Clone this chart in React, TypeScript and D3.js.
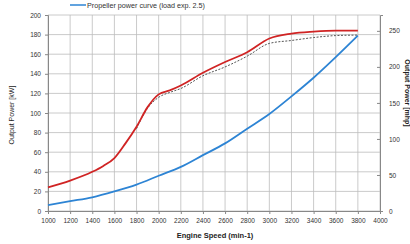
import React, { useEffect, useRef } from 'react';
import * as d3 from 'd3';

// engine speed, min-1
const rpm = [1000, 1200, 1400, 1500, 1600, 1700, 1800, 1900, 2000, 2100, 2200, 2400, 2600, 2800, 3000, 3200, 3400, 3600, 3800];
// max output power curve, kW
const maxPower = [24, 31, 40, 46, 54, 69, 86, 106, 119, 123, 128, 141, 152, 162, 176, 181, 183, 184, 184];
// rated / measured curve (dashed), kW
const dashRpm = [1800, 1900, 2000, 2100, 2200, 2400, 2600, 2800, 3000, 3200, 3400, 3600, 3800];
const dashPower = [84, 105, 116, 121, 125, 138, 147, 158, 171, 174, 177, 179, 179.5];
// propeller curve, kW
const propRpm = [1000, 1200, 1400, 1600, 1800, 2000, 2200, 2400, 2600, 2800, 3000, 3200, 3400, 3600, 3800];
const propPower = [6, 10, 14, 20, 27, 36, 45, 57, 69, 84, 99, 117, 136, 157, 179];

const xTicks = d3.range(1000, 4001, 200);
const yTicks = d3.range(0, 201, 20);
const y2Ticks = [0, 50, 100, 150, 200, 250];

const App = () => {
  const ref = useRef<SVGSVGElement>(null);

  useEffect(() => {
    const svg = d3.select(ref.current);
    svg.selectAll('*').remove();

    const left = 48, right = 380, top = 15, bottom = 211;
    const font = 'Liberation Sans, Arial, sans-serif';

    const x = d3.scaleLinear().domain([1000, 4000]).range([left, right]);
    const y = d3.scaleLinear().domain([0, 200]).range([bottom, top]);
    const y2 = d3.scaleLinear().domain([0, 272]).range([bottom, top]);

    // grid
    const grid = svg.append('g').attr('stroke', '#bdbdbd').attr('stroke-width', 0.8);
    grid.selectAll('.v').data(xTicks).join('line')
      .attr('x1', d => x(d)).attr('x2', d => x(d))
      .attr('y1', top).attr('y2', bottom);
    grid.selectAll('.h').data(yTicks).join('line')
      .attr('x1', left).attr('x2', right)
      .attr('y1', d => y(d)).attr('y2', d => y(d));

    // axes
    const yAxis = svg.append('g')
      .attr('transform', `translate(${left},0)`)
      .call(d3.axisLeft(y).tickValues(yTicks).tickSize(3).tickPadding(4));
    const y2Axis = svg.append('g')
      .attr('transform', `translate(${right},0)`)
      .call(d3.axisRight(y2).tickValues(y2Ticks).tickSize(3).tickPadding(6));
    const xAxis = svg.append('g')
      .attr('transform', `translate(0,${bottom})`)
      .call(d3.axisBottom(x).tickValues(xTicks).tickSize(3).tickPadding(4).tickFormat(d3.format('d')));

    [yAxis, y2Axis, xAxis].forEach(g => {
      g.select('.domain').attr('stroke', '#888');
      g.selectAll('.tick line').attr('stroke', '#888');
      g.selectAll('text').attr('font-family', font).attr('font-size', 6.5).attr('fill', '#333');
    });
    y2Axis.selectAll('.tick line').attr('x2', -3);

    // lines
    const line = d3.line<number>().curve(d3.curveMonotoneX);

    svg.append('path')
      .attr('fill', 'none').attr('stroke', '#2d84d4').attr('stroke-width', 1.8)
      .attr('d', line.x((d, i) => x(propRpm[i])).y(d => y(d))(propPower));

    svg.append('path')
      .attr('fill', 'none').attr('stroke', '#555').attr('stroke-width', 1)
      .attr('stroke-dasharray', '2,1.5')
      .attr('d', line.x((d, i) => x(dashRpm[i])).y(d => y(d))(dashPower));

    svg.append('path')
      .attr('fill', 'none').attr('stroke', '#d02424').attr('stroke-width', 1.8)
      .attr('d', line.x((d, i) => x(rpm[i])).y(d => y(d))(maxPower));

    // legend
    svg.append('line')
      .attr('x1', 70).attr('x2', 86).attr('y1', 5).attr('y2', 5)
      .attr('stroke', '#2d84d4').attr('stroke-width', 1.5);
    svg.append('text')
      .attr('x', 87).attr('y', 7.5)
      .attr('font-family', font).attr('font-size', 7).attr('fill', '#333')
      .attr('textLength', 118).attr('lengthAdjust', 'spacingAndGlyphs')
      .text('Propeller power curve (load exp. 2.5)');

    // axis titles
    svg.append('text')
      .attr('transform', 'translate(14,115) rotate(-90)')
      .attr('text-anchor', 'middle')
      .attr('font-family', font).attr('font-size', 7).attr('fill', '#222')
      .text('Output Power [kW]');
    svg.append('text')
      .attr('transform', 'translate(405,93) rotate(90)')
      .attr('text-anchor', 'middle')
      .attr('font-family', font).attr('font-size', 7).attr('font-weight', 'bold').attr('fill', '#222')
      .text('Output Power [mhp]');
    svg.append('text')
      .attr('x', 215).attr('y', 238)
      .attr('text-anchor', 'middle')
      .attr('font-family', font).attr('font-size', 7.5).attr('font-weight', 'bold').attr('fill', '#222')
      .text('Engine Speed (min-1)');
  }, []);

  return (
    <svg ref={ref} width={410} height={244}
      style={{ position: 'absolute', left: 0, top: 0, background: '#fff' }} />
  );
};

export default App;
